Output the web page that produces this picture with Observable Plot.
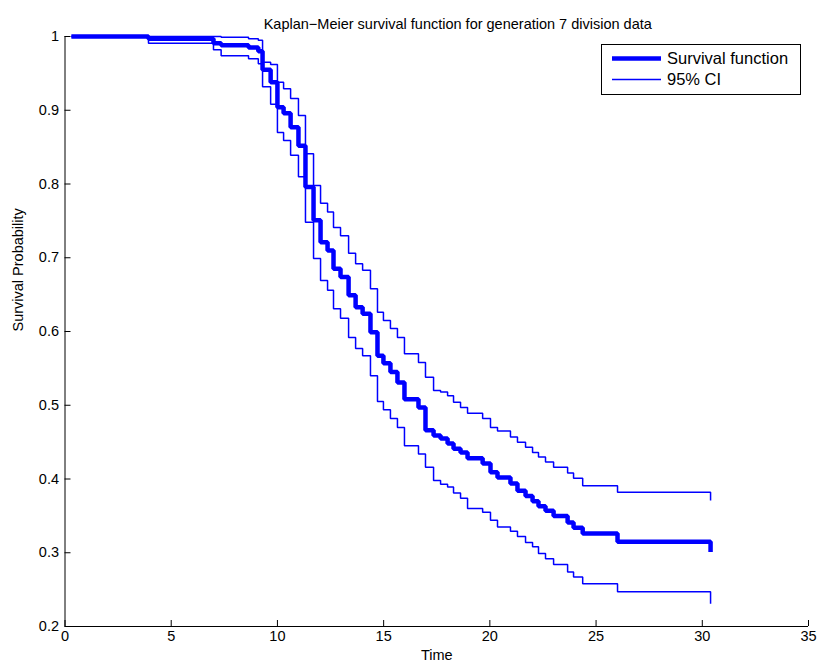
<!DOCTYPE html>
<html><head><meta charset="utf-8">
<script src="https://cdn.jsdelivr.net/npm/d3@7"></script>
<script src="https://cdn.jsdelivr.net/npm/@observablehq/plot@0.6"></script>
<style>
body{margin:0;background:#fff;}
#chart svg{font-family:"Liberation Sans",Arial,Helvetica,sans-serif;}
</style>
</head><body><div id="chart"></div>
<script>
// Event times and Kaplan–Meier estimates
const times = [0.3, 3.93, 6.99, 7.35, 8.64, 9.1, 9.3, 9.68, 10.0, 10.29, 10.62, 10.99, 11.32, 11.70, 12.03, 12.36, 12.64, 12.97, 13.35, 13.68, 14.01, 14.38, 14.71, 14.99, 15.32, 15.65, 15.98, 16.64, 16.97, 17.35, 17.68, 18.01, 18.29, 18.62, 18.95, 19.66, 20.03, 20.36, 20.97, 21.3, 21.68, 22.01, 22.29, 22.62, 23.0, 23.66, 23.94, 24.37, 26.01, 30.39];
const survival = [1.0, 0.997, 0.991, 0.988, 0.985, 0.980, 0.955, 0.938, 0.904, 0.896, 0.877, 0.852, 0.796, 0.751, 0.721, 0.710, 0.685, 0.674, 0.649, 0.633, 0.624, 0.599, 0.567, 0.557, 0.545, 0.531, 0.508, 0.497, 0.466, 0.459, 0.455, 0.448, 0.441, 0.436, 0.428, 0.421, 0.409, 0.402, 0.394, 0.384, 0.377, 0.370, 0.363, 0.357, 0.350, 0.341, 0.334, 0.326, 0.315, 0.301];
const lowerCI = [1.0, 0.991, 0.982, 0.974, 0.970, 0.963, 0.932, 0.908, 0.870, 0.859, 0.839, 0.810, 0.748, 0.699, 0.669, 0.656, 0.631, 0.618, 0.592, 0.577, 0.567, 0.540, 0.505, 0.494, 0.482, 0.470, 0.445, 0.434, 0.416, 0.398, 0.393, 0.389, 0.381, 0.374, 0.360, 0.355, 0.344, 0.335, 0.329, 0.322, 0.314, 0.308, 0.299, 0.292, 0.284, 0.274, 0.267, 0.258, 0.247, 0.231];
const upperCI = [1.0, 1.0, 1.0, 0.999, 0.997, 0.995, 0.965, 0.962, 0.938, 0.929, 0.916, 0.893, 0.841, 0.798, 0.774, 0.762, 0.741, 0.730, 0.706, 0.692, 0.683, 0.658, 0.626, 0.615, 0.604, 0.592, 0.570, 0.558, 0.538, 0.520, 0.518, 0.513, 0.504, 0.497, 0.489, 0.482, 0.470, 0.465, 0.457, 0.450, 0.443, 0.436, 0.430, 0.423, 0.416, 0.408, 0.401, 0.391, 0.382, 0.371];
const xTicks = [0, 5, 10, 15, 20, 25, 30, 35];
const yTicks = [0.2, 0.3, 0.4, 0.5, 0.6, 0.7, 0.8, 0.9, 1];
const titleText = "Kaplan\u2212Meier survival function for generation 7 division data";
const xLabel = "Time";
const yLabel = "Survival Probability";
const legendLabels = ["Survival function", "95% CI"];

const rows = times.map((t, i) => ({t, s: survival[i], lo: lowerCI[i], up: upperCI[i]}));
const blue = "#0000ff";
const fmt = d => String(+d.toFixed(1));

const svg = Plot.plot({
  width: 818,
  height: 665,
  marginLeft: 64.5,
  marginRight: 10,
  marginTop: 36,
  marginBottom: 39,
  style: {fontSize: "14.5px", fontFamily: "'Liberation Sans', Arial, Helvetica, sans-serif", background: "#fff", color: "#000"},
  x: {domain: [0, 35]},
  y: {domain: [0.2, 1]},
  marks: [
    Plot.line(rows, {x: "t", y: "lo", curve: "step-after", stroke: blue, strokeWidth: 1.5, strokeLinejoin: "miter", strokeLinecap: "butt"}),
    Plot.line(rows, {x: "t", y: "up", curve: "step-after", stroke: blue, strokeWidth: 1.5, strokeLinejoin: "miter", strokeLinecap: "butt"}),
    Plot.line(rows, {x: "t", y: "s", curve: "step-after", stroke: blue, strokeWidth: 4.5, strokeLinejoin: "miter", strokeLinecap: "butt"}),
    Plot.ruleX([0], {stroke: "#000", strokeWidth: 1}),
    Plot.ruleY([0.2], {stroke: "#000", strokeWidth: 1}),
    Plot.axisX({ticks: xTicks, tickSize: 6, dy: -6, text: null, label: null, stroke: "#000"}),
    Plot.axisX({ticks: xTicks, tickSize: 0, tickPadding: 4, tickFormat: fmt, label: null, fontSize: 14.5, fill: "#000"}),
    Plot.axisY({ticks: yTicks, tickSize: 6, dx: 6, text: null, label: null, stroke: "#000"}),
    Plot.axisY({ticks: yTicks, tickSize: 0, tickPadding: 6, tickFormat: fmt, label: null, fontSize: 14.5, fill: "#000"}),
    Plot.text([titleText], {text: d => d, frameAnchor: "top", dy: -18, dx: 21, fontSize: 14.5, fill: "#000"}),
    Plot.text([xLabel], {text: d => d, frameAnchor: "bottom", dy: 33, fontSize: 14.5, fill: "#000"}),
    Plot.text([yLabel], {text: d => d, frameAnchor: "left", dx: -47, rotate: -90, fontSize: 14.5, fill: "#000"})
  ]
});
document.getElementById("chart").appendChild(svg);

// Legend box (MATLAB style), drawn inside the plot's SVG
const g = d3.select(svg).append("g").attr("font-size", 16.5).attr("text-anchor", "start")
  .attr("font-family", "'Liberation Sans', Arial, sans-serif");
g.append("rect").attr("x", 601.5).attr("y", 44.5).attr("width", 199).attr("height", 50)
  .attr("fill", "#fff").attr("stroke", "#000").attr("stroke-width", 1);
const legendWidths = [4.5, 1.5];
legendLabels.forEach((lab, i) => {
  const y = 58.5 + i * 21;
  g.append("line").attr("x1", 612).attr("x2", 661).attr("y1", y).attr("y2", y)
    .attr("stroke", blue).attr("stroke-width", legendWidths[i]);
  g.append("text").attr("x", 667).attr("y", y).attr("dy", "0.35em").attr("text-anchor", "start")
    .attr("fill", "#000").text(lab);
});
</script>
</body></html>
